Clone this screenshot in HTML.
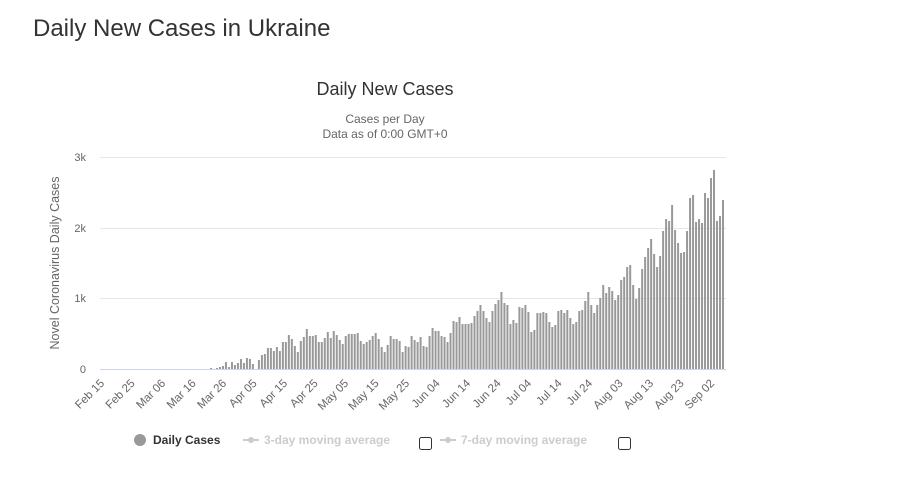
<!DOCTYPE html>
<html><head><meta charset="utf-8"><style>
body{margin:0;background:#fff;width:907px;height:499px;overflow:hidden;font-family:"Liberation Sans",sans-serif}
</style></head><body>
<svg width="907" height="499" xmlns="http://www.w3.org/2000/svg" font-family="Liberation Sans, sans-serif">
<text x="33" y="36" font-size="24" fill="#333">Daily New Cases in Ukraine</text>
<text x="385" y="95" font-size="18" fill="#333" text-anchor="middle">Daily New Cases</text>
<text x="385" y="123" font-size="12" fill="#666" text-anchor="middle">Cases per Day</text>
<text x="385" y="138" font-size="12" fill="#666" text-anchor="middle">Data as of 0:00 GMT+0</text>
<text transform="translate(59,263) rotate(-90)" font-size="12.5" fill="#666" text-anchor="middle">Novel Coronavirus Daily Cases</text>
<g stroke="#e6e6e6" stroke-width="1">
<line x1="100" y1="157.5" x2="726" y2="157.5"/><line x1="100" y1="228.5" x2="726" y2="228.5"/><line x1="100" y1="298.5" x2="726" y2="298.5"/>
</g>
<g font-size="11" fill="#666" text-anchor="end">
<text x="86" y="161">3k</text><text x="86" y="232">2k</text><text x="86" y="302">1k</text><text x="86" y="373">0</text>
</g>
<g id="bars" fill="#999"></g>
<line x1="100" y1="369.5" x2="726" y2="369.5" stroke="#ccd6eb"/>
<g id="xl" font-size="11.5" fill="#666" text-anchor="end"></g>
<circle cx="140" cy="440" r="6" fill="#999"/>
<text x="153" y="444" font-size="12" font-weight="bold" fill="#333">Daily Cases</text>
<line x1="243" y1="440" x2="259" y2="440" stroke="#ccc" stroke-width="2"/><circle cx="251" cy="440" r="3" fill="#ccc"/>
<text x="264" y="444" font-size="12" font-weight="bold" fill="#ccc">3-day moving average</text>
<rect x="419.5" y="437.5" width="12" height="12" rx="2" fill="#fff" stroke="#333"/>
<line x1="440" y1="440" x2="456" y2="440" stroke="#ccc" stroke-width="2"/><circle cx="448" cy="440" r="3" fill="#ccc"/>
<text x="461" y="444" font-size="12" font-weight="bold" fill="#ccc">7-day moving average</text>
<rect x="618.5" y="437.5" width="12" height="12" rx="2" fill="#fff" stroke="#333"/>
</svg>
<script>
var z1=[294,297,294,291,288,276,291,276,285,279,267,279,264,267,282,297,270,255,252,234,234,243,231,243,216,216,195,207,228,246,213,201,177,198,198,195,216,216,204,186,204,183,195,210,222,198,192,192,192,189,213,222,216,210,198,189,207,231,246,225,198,207,207,213,246,228,231,198,210,216,201,228,231,198,174,183,183,198,201,216,189,153,156,141,162];
var z2=[492,492,489,468,453,435,453,474,486,453,432,420,396,429,435,492,480,489,441,444,435,456,516,510,459,459,456,459,486,501,495,453,450,459,450,474,492,486,453,450,423,396,435,459,435,414,375,399,381,393,420,405,360,351,321,315,375,417,384,327,291,264,237,282,321,288,213,177,183,135,210,249,279,276,213,114,105,186,177,189,99,114,54,30,183,168,120];
var h=[];z1.forEach(function(y){h.push((297-y)/3)});z2.forEach(function(y){h.push((627-y)/3)});
var sp=(723-211)/(h.length-1),s='';
h.forEach(function(v,i){var x=211+i*sp;if(v>0)s+='<rect x="'+(x-1).toFixed(2)+'" y="'+(369-v).toFixed(2)+'" width="2" height="'+v.toFixed(2)+'"/>';});
document.getElementById('bars').innerHTML=s;
var L=["Feb 15","Feb 25","Mar 06","Mar 16","Mar 26","Apr 05","Apr 15","Apr 25","May 05","May 15","May 25","Jun 04","Jun 14","Jun 24","Jul 04","Jul 14","Jul 24","Aug 03","Aug 13","Aug 23","Sep 02"];
var t='';L.forEach(function(l,i){var x=105+i*30.5;t+='<text transform="translate('+x+',384) rotate(-45)">'+l+'</text>';});
document.getElementById('xl').innerHTML=t;
</script>
</body></html>
